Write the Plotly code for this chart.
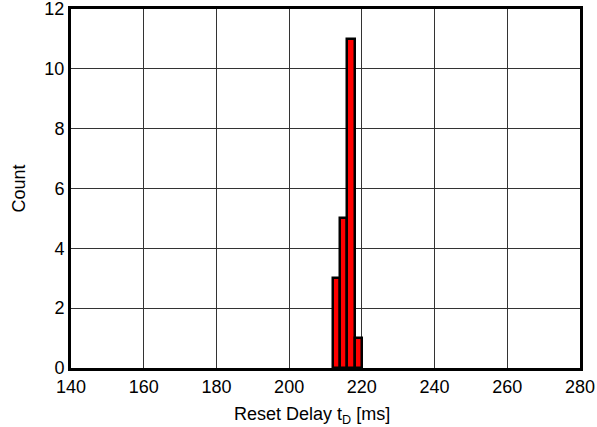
import plotly.graph_objects as go

# histogram bins (bin centres, ms) and counts
delay_ms = [213, 215, 217, 219]
counts = [3, 5, 11, 1]
bin_width = 2

x_ticks = [140, 160, 180, 200, 220, 240, 260, 280]
y_ticks = [0, 2, 4, 6, 8, 10, 12]

fig = go.Figure()
fig.add_trace(go.Bar(
    x=delay_ms,
    y=counts,
    width=bin_width,
    marker=dict(color="#ff0000", line=dict(color="black", width=2.5)),
    showlegend=False,
))

font = dict(family="Liberation Sans, Arial, sans-serif", size=18, color="black")

fig.update_layout(
    width=597,
    height=427,
    margin=dict(l=71, r=17, t=9, b=59),
    paper_bgcolor="white",
    plot_bgcolor="white",
    font=font,
    bargap=0,
    xaxis=dict(
        range=[140, 280],
        tickvals=x_ticks,
        showgrid=True,
        gridcolor="#333333",
        gridwidth=1,
        showline=True,
        linecolor="black",
        linewidth=3,
        mirror=True,
        ticks="",
        zeroline=False,
        automargin=False,
        ticklabeloverflow="allow",
    ),
    yaxis=dict(
        range=[0, 12],
        tickvals=y_ticks,
        showgrid=True,
        gridcolor="#333333",
        gridwidth=1,
        showline=True,
        linecolor="black",
        linewidth=3,
        mirror=True,
        ticks="",
        zeroline=False,
        automargin=False,
        ticklabeloverflow="allow",
        title=dict(text="Count", font=font),
    ),
)

# x-axis title sits a bit left of the plot centre in the original
fig.add_annotation(
    text="Reset Delay t<sub>D</sub> [ms]",
    xref="paper", yref="paper",
    x=0.474, y=-0.095,
    xanchor="center", yanchor="top",
    showarrow=False,
    font=font,
)

fig.write_html("out.html", config={"displayModeBar": False},
               post_script="document.body.style.margin='0';")
